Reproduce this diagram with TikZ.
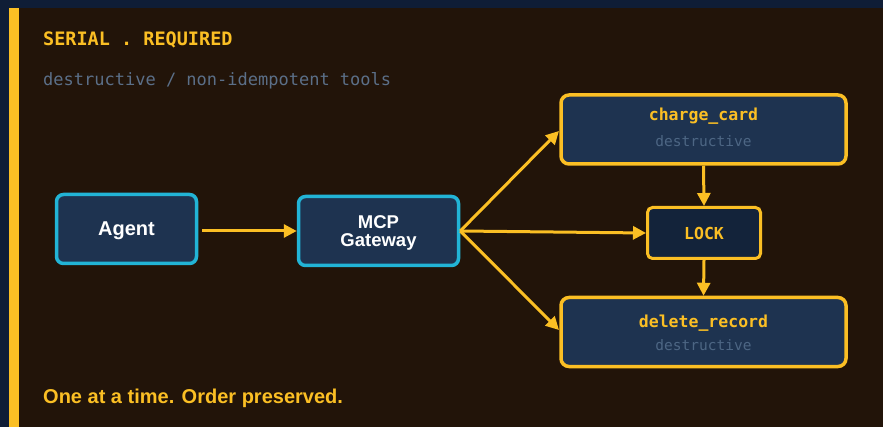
\documentclass[tikz,border=0pt]{standalone}
\usepackage{fontspec}
\setmainfont{Liberation Sans}
\setmonofont{DejaVu Sans Mono}
\usetikzlibrary{arrows.meta}
\definecolor{navy}{HTML}{0F1D36}
\definecolor{amber}{HTML}{FBBF24}
\definecolor{panel}{HTML}{221409}
\definecolor{boxfill}{HTML}{1E3350}
\definecolor{lockfill}{HTML}{13233A}
\definecolor{wire}{HTML}{22B4D6}
\definecolor{mute}{HTML}{5B6F88}
\definecolor{boxmute}{HTML}{4D6684}
\def\FS#1{\fontsize{#1}{#1}\selectfont}

\begin{document}
\begin{tikzpicture}[x=1pt,y=-1pt,
  agentbox/.style={draw=wire,line width=3.5pt,fill=boxfill,rounded corners=7pt,text=white,text depth=0pt,font=\FS{20}\bfseries},
  toolbox/.style={draw=amber,line width=3.5pt,fill=boxfill,rounded corners=8pt,minimum width=285pt,minimum height=69pt},
  lockbox/.style={draw=amber,line width=3pt,fill=lockfill,rounded corners=5pt,minimum width=113pt,minimum height=51pt},
  tooltitle/.style={anchor=base,text=amber,font=\FS{16.5}\ttfamily\bfseries},
  toolsub/.style={anchor=base,text=boxmute,font=\FS{14.5}\ttfamily},
  flow/.style={draw=amber,line width=3pt,-{Triangle[length=13pt,width=13pt]}}]
  % background, stripe and panel
  \fill[navy] (0,0) rectangle (883,427);
  \fill[amber] (9,8) rectangle (19,427);
  \fill[panel] (19,8) rectangle (883,427);
  % header
  \node[anchor=base west,inner sep=0,text=amber,font=\FS{18.5}\ttfamily\bfseries] (title) at (43,46) {SERIAL . REQUIRED};
  \node[anchor=base west,inner sep=0,text=mute,font=\FS{17}\ttfamily] (subtitle) at (43,86) {destructive / non-idempotent tools};
  % agent side
  \node[agentbox,minimum width=140pt,minimum height=69pt] (agent) at (126.5,229) {Agent};
  \node[agentbox,minimum width=160pt,minimum height=69pt,align=center,font=\bfseries] (gw) at (378.5,231)
    {\FS{18.5}MCP\\[4pt]\FS{18.5}Gateway};
  % tools
  \node[toolbox] (charge) at (703.5,129.5) {};
  \node[tooltitle] (chargename) at (703.5,121) {charge\_card};
  \node[toolsub] (chargesub) at (703.5,147) {destructive};
  \node[lockbox] (lock) at (704,233) {};
  \node[tooltitle] (lockname) at (704,240) {LOCK};
  \node[toolbox] (delete) at (703.5,332) {};
  \node[tooltitle] (deletename) at (703.5,327) {delete\_record};
  \node[toolsub] (deletesub) at (703.5,350) {destructive};
  \coordinate (chargein) at (559,131);
  \coordinate (deletein) at (559,330);
  % footer
  \node[anchor=base west,inner sep=0,text=amber,font=\FS{20}\bfseries] (note) at (43,403) {One at a time. Order preserved.};
  % arrows
  \draw[flow,shorten <=4pt] (agent.east |- gw.west) -- (gw.west);
  \draw[flow] (gw.east) -- (chargein);
  \draw[flow] (gw.east) -- (lock.west);
  \draw[flow] (gw.east) -- (deletein);
  \draw[flow] (charge.south) -- (lock.north);
  \draw[flow] (lock.south) -- (delete.north);
\end{tikzpicture}
\end{document}
